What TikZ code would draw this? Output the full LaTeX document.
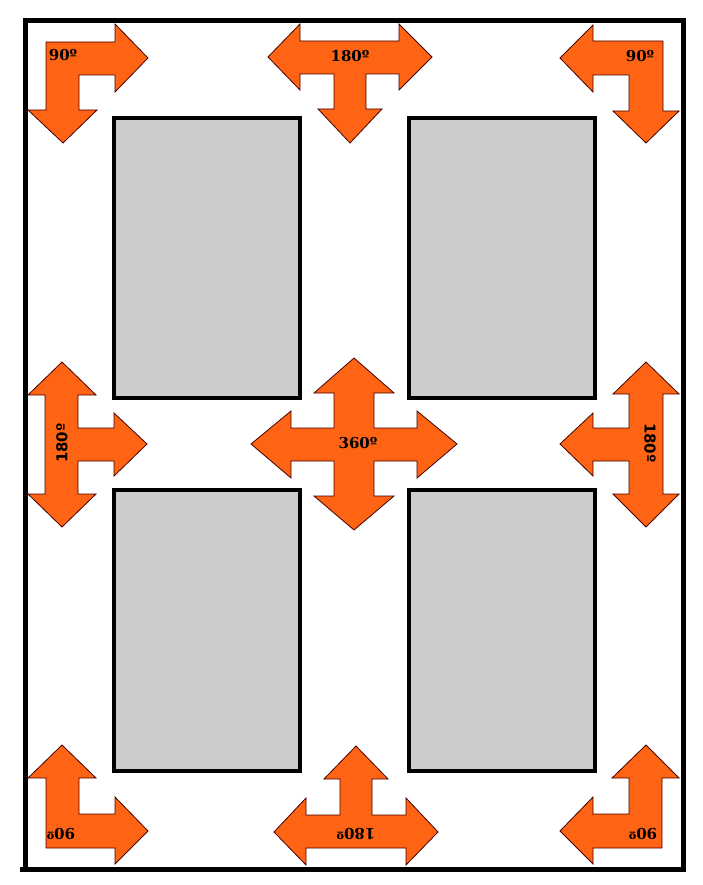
\documentclass[tikz,border=0pt]{standalone}
\usepackage{fontspec}
\setmainfont{DejaVu Serif}
\setsansfont{DejaVu Sans}
\usepackage{tikz}
\definecolor{arroworange}{RGB}{255,100,20}
\definecolor{arrowedge}{RGB}{70,0,0}
\definecolor{panelgray}{RGB}{204,204,204}
\tikzset{
  turnarrow/.style={fill=arroworange,draw=arrowedge,line width=.8pt,line join=miter},
  panel/.style={fill=panelgray,draw=black,line width=4pt},
  angle/.style={inner sep=0pt,font=\fontsize{15}{18}\selectfont\bfseries},
  anglesf/.style={angle,font=\fontsize{15}{18}\selectfont\sffamily\bfseries}
}

\begin{document}
\begin{tikzpicture}[x=1pt,y=-1pt]
    \useasboundingbox (0,0) rectangle (703,885);
    \draw[line width=5pt] (25,21) rectangle (683,869);
    \draw[line width=5pt] (20,869) -- (25,869);

    \draw[panel] (114,118) rectangle (300,398);
    \draw[panel] (409,118) rectangle (595,398);
    \draw[panel] (114,490) rectangle (300,771);
    \draw[panel] (409,490) rectangle (595,771);

    \draw[turnarrow] (46,42) -- (115,42) -- (115,24) -- (148,58) -- (115,92) -- (115,75) -- (79,75) -- (79,110)
      -- (97,110) -- (63,143) -- (28,110) -- (46,110) -- cycle;
    \node[angle] (tl) at (63,55) {90º};

    \draw[turnarrow] (268,57) -- (300,24) -- (300,41) -- (399,41) -- (399,24) -- (432,57) -- (399,90) -- (399,74)
      -- (366,74) -- (366,109) -- (382,109) -- (350,143) -- (318,109) -- (334,109) -- (334,74) -- (300,74) -- (300,90) -- cycle;
    \node[angle] (tc) at (350,56) {180º};

    \draw[turnarrow] (560,58) -- (593,25) -- (593,41) -- (663,41) -- (663,111) -- (679,111) -- (646,143) -- (613,111)
      -- (629,111) -- (629,75) -- (593,75) -- (593,92) -- cycle;
    \node[angle] (tr) at (640,56) {90º};

    \draw[turnarrow] (62,362) -- (96,395) -- (78,395) -- (78,428) -- (114,428) -- (114,413) -- (147,444) -- (114,476)
      -- (114,461) -- (78,461) -- (78,494) -- (96,494) -- (62,527) -- (28,494) -- (45,494) -- (45,395) -- (28,395) -- cycle;
    \node[anglesf,rotate=90] (ml) at (62,443) {180º};

    \draw[turnarrow] (354,358) -- (394,393) -- (374,393) -- (374,428) -- (417,428) -- (417,411) -- (457,444) -- (417,478)
      -- (417,461) -- (374,461) -- (374,496) -- (394,496) -- (354,530) -- (314,496) -- (334,496) -- (334,461) -- (291,461)
      -- (291,478) -- (251,444) -- (291,411) -- (291,428) -- (334,428) -- (334,393) -- (314,393) -- cycle;
    \node[angle] (ctr) at (358,443) {360º};

    \draw[turnarrow] (646,362) -- (679,394) -- (663,394) -- (663,494) -- (679,494) -- (646,527) -- (613,494) -- (629,494)
      -- (629,461) -- (593,461) -- (593,476) -- (560,444) -- (593,413) -- (593,428) -- (629,428) -- (629,394) -- (613,394) -- cycle;
    \node[anglesf,rotate=-90] (mr) at (650,443) {180º};

    \draw[turnarrow] (62,745) -- (96,778) -- (79,778) -- (79,814) -- (115,814) -- (115,797) -- (148,831) -- (115,864)
      -- (115,848) -- (46,848) -- (46,778) -- (28,778) -- cycle;
    \node[angle,rotate=180] (bl) at (61,834) {90º};

    \draw[turnarrow] (356,746) -- (388,779) -- (372,779) -- (372,815) -- (406,815) -- (406,798) -- (438,832) -- (406,865)
      -- (406,848) -- (306,848) -- (306,865) -- (274,832) -- (306,798) -- (306,815) -- (340,815) -- (340,779) -- (324,779) -- cycle;
    \node[angle,rotate=180] (bc) at (356,834) {180º};

    \draw[turnarrow] (646,745) -- (679,778) -- (662,778) -- (662,848) -- (593,848) -- (593,864) -- (560,831) -- (593,797)
      -- (593,814) -- (629,814) -- (629,778) -- (612,778) -- cycle;
    \node[angle,rotate=180] (br) at (643,834) {90º};
\end{tikzpicture}
\end{document}
